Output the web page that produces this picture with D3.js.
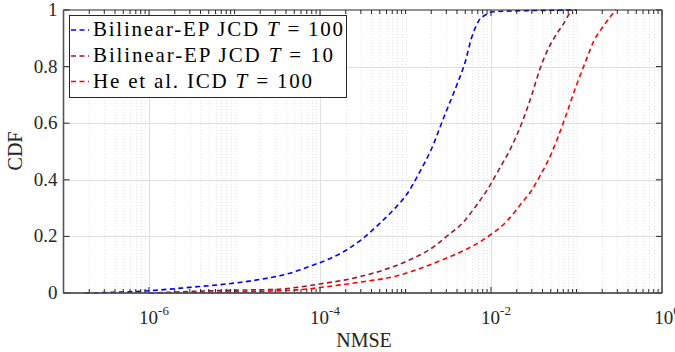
<!DOCTYPE html>
<meta charset="utf-8">
<style>
body { margin: 0; background: #fff; }
svg { font-family: "Liberation Serif", "Times New Roman", serif; }
.grid line { stroke: #e0e0e0; }
.grid .minor { stroke: #e3e3e3; stroke-dasharray: 1,2; }
.series { fill: none; stroke-width: 1.6; stroke-dasharray: 5,3.5; }
</style>
<svg width="675" height="352"></svg>
<script src="https://d3js.org/d3.v7.min.js"></script>
<script>

// NMSE / CDF pairs
var blueX = [1.78e-7, 1e-6, 3.0e-6, 8.1e-6, 2.0e-5, 4.1e-5, 9.1e-5, 1.32e-4, 2.04e-4, 3.09e-4, 5.0e-4, 7.2e-4, 1.07e-3, 1.48e-3, 1.95e-3, 2.88e-3, 3.98e-3, 5.0e-3, 5.9e-3, 7.1e-3, 8.9e-3, 1.07e-2, 3.2e-2, 1e-1];
var blueY = [0, 0.008, 0.020, 0.032, 0.048, 0.067, 0.103, 0.122, 0.152, 0.190, 0.246, 0.293, 0.355, 0.430, 0.500, 0.629, 0.735, 0.817, 0.900, 0.959, 0.985, 0.994, 0.998, 1];

var brownX = [1e-6, 1e-5, 3.1e-5, 5.4e-5, 1e-4, 2.1e-4, 2.95e-4, 6.3e-4, 1.23e-3, 1.95e-3, 3.0e-3, 4.8e-3, 6.8e-3, 9.3e-3, 1.2e-2, 1.66e-2, 2.29e-2, 3.0e-2, 3.7e-2, 4.5e-2, 5.6e-2, 7.1e-2, 8.3e-2, 8.9e-2];
var brownY = [0, 0.010, 0.013, 0.020, 0.032, 0.048, 0.058, 0.087, 0.123, 0.155, 0.199, 0.252, 0.311, 0.370, 0.429, 0.505, 0.600, 0.700, 0.788, 0.853, 0.906, 0.953, 0.988, 1];

var redX = [1e-6, 1e-5, 5.4e-5, 1.32e-4, 3.2e-4, 7.9e-4, 1.62e-3, 3.0e-3, 5.2e-3, 9.8e-3, 1.51e-2, 1.9e-2, 2.19e-2, 2.88e-2, 3.7e-2, 5.1e-2, 7.2e-2, 1e-1, 1.32e-1, 1.58e-1, 2.04e-1, 2.57e-1, 2.9e-1];
var redY = [0, 0.004, 0.011, 0.024, 0.040, 0.060, 0.091, 0.123, 0.155, 0.205, 0.252, 0.287, 0.311, 0.356, 0.411, 0.494, 0.611, 0.735, 0.829, 0.888, 0.941, 0.982, 1];

var seriesNames = ["Bilinear-EP JCD", "Bilinear-EP JCD", "He et al. ICD"];
var seriesT = ["100", "10", "100"];
var seriesColors = ["#0000ff", "#a2142f", "#ff0000"];

var yTicks = [0, 0.2, 0.4, 0.6, 0.8, 1];
var xLabelTicks = [1e-6, 1e-4, 1e-2, 1];

var svg = d3.select("svg");
var pLeft = 63.5, pRight = 662, pTop = 10, pBottom = 293;

var x = d3.scaleLog().domain([1e-7, 1]).range([pLeft, pRight]);
var y = d3.scaleLinear().domain([0, 1]).range([pBottom, pTop]);

// every minor position (1..9 x decade)
var allTicks = [];
for (var e = -7; e < 0; e++) {
  for (var m = 1; m < 10; m++) allTicks.push(m * Math.pow(10, e));
}
allTicks.push(1);
var isLabel = function(v) { return xLabelTicks.some(function(t) { return Math.abs(Math.log10(v) - Math.log10(t)) < 1e-6; }); };

var grid = svg.append("g").attr("class", "grid");
grid.selectAll("line.vx").data(allTicks.filter(function(v) { return v > 1e-7 && v < 1; }))
  .enter().append("line")
    .attr("class", function(d) { return isLabel(d) ? "vx" : "vx minor"; })
    .attr("x1", function(d) { return Math.round(x(d)) + 0.5; })
    .attr("x2", function(d) { return Math.round(x(d)) + 0.5; })
    .attr("y1", pTop).attr("y2", pBottom);
grid.selectAll("line.hy").data(yTicks.slice(1, -1))
  .enter().append("line")
    .attr("class", "hy")
    .attr("x1", pLeft).attr("x2", pRight)
    .attr("y1", function(d) { return Math.round(y(d)) + 0.5; })
    .attr("y2", function(d) { return Math.round(y(d)) + 0.5; });

// curves
var line = d3.line()
    .x(function(d) { return x(d[0]); })
    .y(function(d) { return y(d[1]); })
    .curve(d3.curveMonotoneX);

var data = [d3.zip(blueX, blueY), d3.zip(brownX, brownY), d3.zip(redX, redY)];
svg.append("g").selectAll("path").data(data).enter().append("path")
    .attr("class", "series")
    .attr("stroke", function(d, i) { return seriesColors[i]; })
    .attr("d", line);

// axes, MATLAB style ticks pointing inward on all four sides
var ax = svg.append("g").attr("stroke", "#262626");
ax.append("rect").attr("x", pLeft).attr("y", pTop).attr("width", pRight - pLeft).attr("height", pBottom - pTop)
    .attr("fill", "none").attr("stroke-width", 1);
allTicks.forEach(function(v) {
  var len = isLabel(v) ? 6 : 4;
  var xx = x(v);
  ax.append("line").attr("x1", xx).attr("x2", xx).attr("y1", pBottom).attr("y2", pBottom - len);
  ax.append("line").attr("x1", xx).attr("x2", xx).attr("y1", pTop).attr("y2", pTop + len);
});
yTicks.forEach(function(v) {
  ax.append("line").attr("x1", pLeft).attr("x2", pLeft + 6).attr("y1", y(v)).attr("y2", y(v));
  ax.append("line").attr("x1", pRight).attr("x2", pRight - 6).attr("y1", y(v)).attr("y2", y(v));
});
ax.append("line").attr("x1", pLeft).attr("x2", pLeft).attr("y1", pTop).attr("y2", pBottom).attr("stroke", "#555").attr("stroke-width", 1.6);
ax.append("line").attr("x1", pLeft).attr("x2", pRight).attr("y1", pBottom).attr("y2", pBottom).attr("stroke", "#555").attr("stroke-width", 1.6);
ax.append("line").attr("x1", pRight).attr("x2", pRight).attr("y1", pTop).attr("y2", pBottom).attr("stroke", "#666").attr("stroke-width", 1.6);

// tick labels
svg.append("g").selectAll("text").data(yTicks).enter().append("text")
    .attr("x", pLeft - 6).attr("y", function(d) { return y(d) + 6; })
    .attr("text-anchor", "end").attr("font-size", 19).attr("fill", "#262626")
    .text(function(d) { return d3.format("~g")(d); });

var xl = svg.append("g").selectAll("text").data(xLabelTicks).enter().append("text")
    .attr("x", function(d) { return x(d) + 5; }).attr("y", 324)
    .attr("text-anchor", "middle").attr("font-size", 19).attr("fill", "#262626");
xl.append("tspan").text("10");
xl.append("tspan").attr("font-size", 13).attr("dy", -9)
    .text(function(d) { var p = Math.round(Math.log10(d)); return p === 0 ? "0" : "-" + (-p); });

svg.append("text").attr("x", 364).attr("y", 347).attr("text-anchor", "middle")
    .attr("font-size", 20).attr("fill", "#262626").text("NMSE");
svg.append("text").attr("transform", "translate(22,151)rotate(-90)").attr("text-anchor", "middle")
    .attr("font-size", 20).attr("fill", "#262626").text("CDF");

// legend
var lg = svg.append("g");
lg.append("rect").attr("x", 69.5).attr("y", 15.5).attr("width", 277).attr("height", 82)
    .attr("fill", "#fff").attr("stroke", "#262626").attr("stroke-width", 1);
var rowY = [30, 56, 81.5];
var rowLen = [250, 240, 219];
seriesNames.forEach(function(name, i) {
  lg.append("line").attr("x1", 71).attr("x2", 89).attr("y1", rowY[i]).attr("y2", rowY[i])
      .attr("class", "series").attr("stroke", seriesColors[i]).attr("stroke-dasharray", "5,2.5");
  var t = lg.append("text").attr("x", 93).attr("y", rowY[i] + 6).attr("font-size", 21).attr("fill", "#000")
      .attr("textLength", rowLen[i]).attr("lengthAdjust", "spacing");
  t.append("tspan").text(name + " ");
  t.append("tspan").attr("font-style", "italic").text("T");
  t.append("tspan").text(" = " + seriesT[i]);
});

</script>
